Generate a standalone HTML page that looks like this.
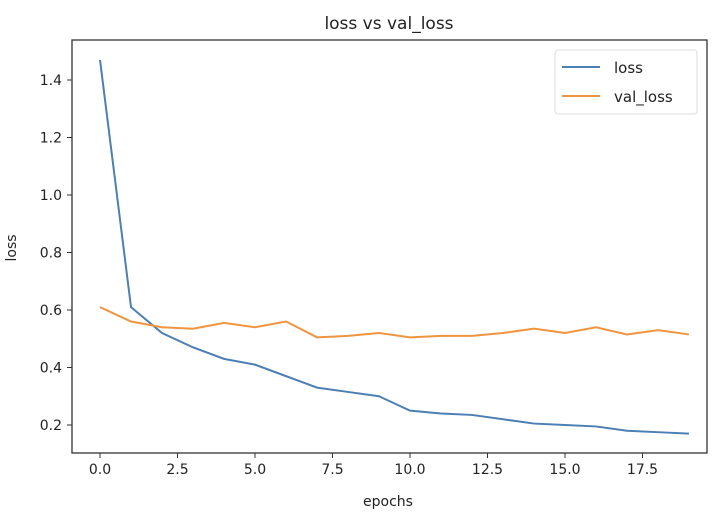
<!DOCTYPE html>
<html><head><meta charset="utf-8"><style>
html,body{margin:0;padding:0;background:#fff;width:720px;height:520px;overflow:hidden}
svg text{font-family:"DejaVu Sans","Liberation Sans",sans-serif;fill:#222}
</style></head><body>
<svg id="s" width="720" height="520" xmlns="http://www.w3.org/2000/svg">
<rect width="720" height="520" fill="#fff"/>
<text x="389" y="29" font-size="17" text-anchor="middle">loss vs val_loss</text>
<g id="g"></g>
<rect x="72" y="40" width="635" height="413" fill="none" stroke="#333" stroke-width="1.3"/>
<text x="388" y="506" font-size="14" text-anchor="middle">epochs</text>
<text transform="translate(16,248) rotate(-90)" font-size="14" text-anchor="middle">loss</text>
<rect x="555" y="50" width="142" height="64" rx="3" fill="#fff" stroke="#ddd"/>
<line x1="562" y1="67" x2="600" y2="67" stroke="#4c7fb3" stroke-width="2"/>
<text x="614" y="73" font-size="15">loss</text>
<line x1="562" y1="96" x2="600" y2="96" stroke="#f0953f" stroke-width="2"/>
<text x="614" y="102" font-size="15">val_loss</text>
</svg>
<script>
var g=document.getElementById('g'),h='';
function X(e){return 100+e*31}function Y(v){return 425-(v-0.2)*287.5}
for(var i=0;i<=7;i++){var e=i*2.5,x=X(e);h+='<line x1="'+x+'" y1="453" x2="'+x+'" y2="458" stroke="#333"/><text x="'+x+'" y="474" font-size="14" text-anchor="middle">'+e.toFixed(1)+'</text>';}
for(var i=1;i<=7;i++){var v=i*0.2,y=Y(v);h+='<line x1="67" y1="'+y+'" x2="72" y2="'+y+'" stroke="#333"/><text x="62" y="'+(y+5)+'" font-size="14" text-anchor="end">'+v.toFixed(1)+'</text>';}
var L=[1.47,0.61,0.52,0.47,0.43,0.41,0.37,0.33,0.315,0.30,0.25,0.24,0.235,0.22,0.205,0.20,0.195,0.18,0.175,0.17];
var V=[0.61,0.56,0.54,0.535,0.555,0.54,0.56,0.505,0.51,0.52,0.505,0.51,0.51,0.52,0.535,0.52,0.54,0.515,0.53,0.515];
function P(a,c){return '<polyline fill="none" stroke="'+c+'" stroke-width="2" points="'+a.map(function(v,i){return X(i)+','+Y(v)}).join(' ')+'"/>'}
h+=P(L,'#4c7fb3')+P(V,'#f0953f');
g.innerHTML=h;
</script>
</body></html>
